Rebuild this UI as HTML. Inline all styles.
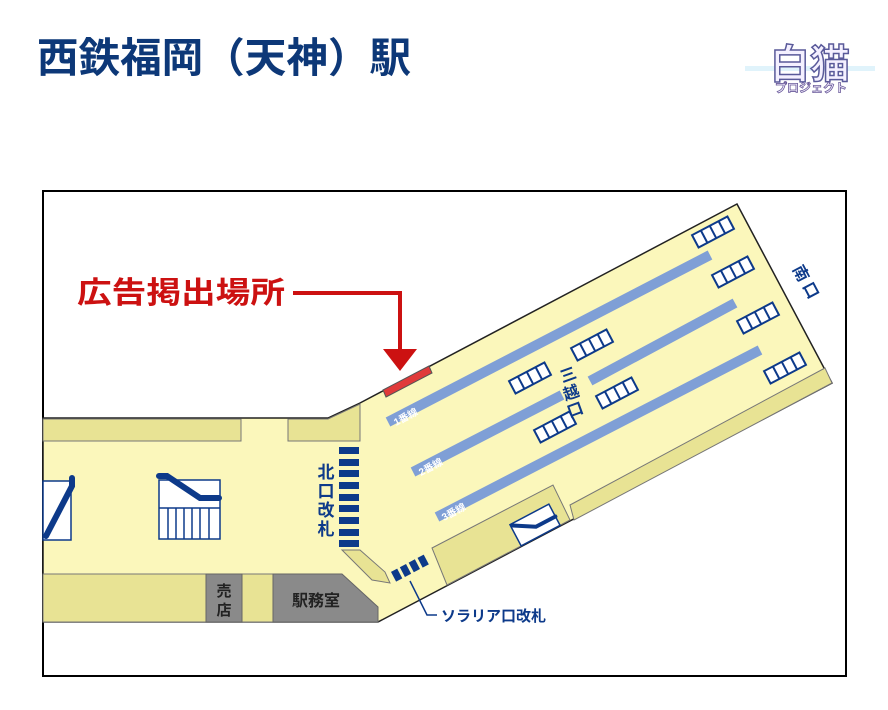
<!DOCTYPE html>
<html><head><meta charset="utf-8"><style>
html,body{margin:0;padding:0;background:#fff;}
svg{display:block;}
text{font-family:"Liberation Sans","Noto Sans CJK JP",sans-serif;}
</style></head><body>
<svg width="888" height="710" viewBox="0 0 888 710" xmlns="http://www.w3.org/2000/svg">
<text x="37" y="72" font-size="41" font-weight="bold" fill="#0d3878" textLength="374" lengthAdjust="spacingAndGlyphs">西鉄福岡（天神）駅</text>
<!-- logo -->
<rect x="745" y="66" width="130" height="5" fill="#d8f0fa" opacity="0.8"/>
<text x="770" y="78" font-size="40" font-weight="bold" fill="#f4f0ff" stroke="#5a5a9a" stroke-width="1.5">白猫</text>
<text x="775" y="92" font-size="12" font-weight="bold" fill="#f4f0ff" stroke="#6a5a9a" stroke-width="0.8">プロジェクト</text>

<rect x="43" y="191" width="803" height="485" fill="#fff" stroke="#000" stroke-width="2"/>

<polygon points="43,418 328,418 360,403 737,204 832,383 378,622 43,622" fill="#fbf7bb" stroke="#222" stroke-width="1.5"/>
<g fill="#e8e394" stroke="#777" stroke-width="1">
<rect x="43" y="419" width="198" height="22"/>
<polygon points="288,419 328,419 360,404 360,441 288,441"/>
<rect x="43" y="574" width="163" height="48"/>
<rect x="242" y="574" width="31" height="48"/>
<polygon points="342,550 360,550 385,572 390,583 372,580"/>
<polygon points="432,548 553,485 570,520 447,585"/>
<polygon points="570,505 825,368 832,383 574,520"/>
</g>
<rect x="206" y="574" width="36" height="48" fill="#8a8a8a" stroke="#666"/>
<polygon points="273,574 342,574 378,607 378,622 273,622" fill="#8a8a8a" stroke="#666"/>
<text x="224" y="596" font-size="15" font-weight="bold" fill="#222" text-anchor="middle">売</text>
<text x="224" y="615" font-size="15" font-weight="bold" fill="#222" text-anchor="middle">店</text>
<text x="316" y="606" font-size="16" font-weight="bold" fill="#222" text-anchor="middle">駅務室</text>

<rect x="43" y="481" width="28" height="59" fill="#fff" stroke="#0d3a8a" stroke-width="1.5"/>
<path d="M72,478 L72,486 L46,536" stroke="#0d3a8a" stroke-width="6" fill="none" stroke-linecap="round"/>
<rect x="159" y="480" width="61" height="59" fill="#fff" stroke="#0d3a8a" stroke-width="1.5"/>
<path d="M159,476 L167,476 L200,498 L219,498" stroke="#0d3a8a" stroke-width="6" fill="none" stroke-linecap="round"/>
<g stroke="#0d3a8a" stroke-width="1.5">
<line x1="159" y1="508" x2="220" y2="508"/>
<line x1="168" y1="508" x2="168" y2="539"/><line x1="176" y1="508" x2="176" y2="539"/>
<line x1="184" y1="508" x2="184" y2="539"/><line x1="192" y1="508" x2="192" y2="539"/>
<line x1="200" y1="508" x2="200" y2="539"/><line x1="209" y1="508" x2="209" y2="539"/>
</g>
<g transform="translate(535,525) rotate(-27.8)">
<rect x="-22" y="-12" width="44" height="24" fill="#fff" stroke="#0d3a8a" stroke-width="1.5"/>
<path d="M-20,-10 L0,2 L22,2" stroke="#0d3a8a" stroke-width="4" fill="none" stroke-linecap="round"/>
</g>

<g fill="#0d3a8a">
<rect x="339" y="447" width="20" height="7"/><rect x="339" y="459" width="20" height="7"/>
<rect x="339" y="470" width="20" height="7"/><rect x="339" y="482" width="20" height="7"/>
<rect x="339" y="494" width="20" height="7"/><rect x="339" y="505" width="20" height="7"/>
<rect x="339" y="517" width="20" height="7"/><rect x="339" y="529" width="20" height="7"/>
<rect x="339" y="540" width="20" height="7"/>
</g>
<g font-size="17" font-weight="bold" fill="#0d3a8a" text-anchor="middle">
<text x="326" y="478">北</text><text x="326" y="497">口</text><text x="326" y="516">改</text><text x="326" y="535">札</text>
</g>
<g transform="translate(411,567) rotate(-27.8)" fill="#0d3a8a">
<rect x="-20" y="-5" width="7" height="11"/><rect x="-10" y="-5" width="7" height="11"/>
<rect x="0" y="-5" width="7" height="11"/><rect x="10" y="-5" width="7" height="11"/>
</g>
<path d="M410,581 L427,615 L437,615" stroke="#0d3a8a" stroke-width="1.5" fill="none"/>
<text x="441" y="621" font-size="15" font-weight="bold" fill="#0d3a8a">ソラリア口改札</text>

<g stroke="#7f9fd6" stroke-width="10">
<line x1="388" y1="422" x2="710" y2="255"/>
<line x1="413" y1="472" x2="562" y2="395"/>
<line x1="590" y1="381" x2="735" y2="303"/>
<line x1="437" y1="517" x2="760" y2="350"/>
</g>
<g font-size="10" font-weight="bold" fill="#fff">
<text transform="translate(396,426) rotate(-27.8)">1番線</text>
<text transform="translate(421,476) rotate(-27.8)">2番線</text>
<text transform="translate(444,521) rotate(-27.8)">3番線</text>
</g>

<defs>
<g id="b">
<rect x="-20" y="-7" width="40" height="14" fill="#fff" stroke="#0d3a8a" stroke-width="2"/>
<line x1="-10" y1="-7" x2="-10" y2="7" stroke="#0d3a8a" stroke-width="2"/>
<line x1="0" y1="-7" x2="0" y2="7" stroke="#0d3a8a" stroke-width="2"/>
<line x1="10" y1="-7" x2="10" y2="7" stroke="#0d3a8a" stroke-width="2"/>
</g>
</defs>
<use href="#b" transform="translate(713,232) rotate(-27.8)"/>
<use href="#b" transform="translate(733,272) rotate(-27.8)"/>
<use href="#b" transform="translate(758,318) rotate(-27.8)"/>
<use href="#b" transform="translate(785,368) rotate(-27.8)"/>
<use href="#b" transform="translate(530,378) rotate(-27.8)"/>
<use href="#b" transform="translate(592,345) rotate(-27.8)"/>
<use href="#b" transform="translate(555,427) rotate(-27.8)"/>
<use href="#b" transform="translate(617,393) rotate(-27.8)"/>

<g font-size="16" font-weight="bold" fill="#0d3a8a" text-anchor="middle">
<text transform="translate(570,380) rotate(-20)">三</text>
<text transform="translate(573,398) rotate(-20)">越</text>
<text transform="translate(577,415) rotate(-20)">口</text>
<text transform="translate(796,276) rotate(62)">南</text>
<text transform="translate(806,293) rotate(62)">口</text>
</g>

<polygon points="383,390 429,366 432,373 386,397" fill="#e03a3a" stroke="#555" stroke-width="1"/>
<text x="77" y="303" font-size="30" font-weight="bold" fill="#cc1111" textLength="208" lengthAdjust="spacingAndGlyphs">広告掲出場所</text>
<path d="M293,293 L400,293 L400,352" stroke="#cc1111" stroke-width="4" fill="none"/>
<polygon points="383,349 417,349 400,371" fill="#cc1111"/>
</svg>
</body></html>
